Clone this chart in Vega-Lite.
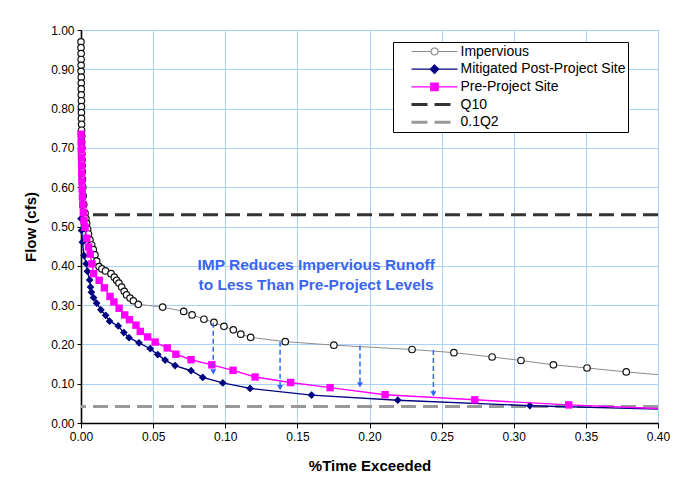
{
  "$schema": "https://vega.github.io/schema/vega-lite/v6.json",
  "width": 577,
  "height": 393,
  "autosize": "none",
  "padding": {"left": 81, "top": 30, "right": 21, "bottom": 55},
  "background": "#ffffff",
  "config": {
    "font": "Liberation Sans",
    "view": {"stroke": "#444444", "strokeWidth": 1},
    "axis": {
      "labelFont": "Liberation Sans",
      "labelFontSize": 12,
      "labelColor": "#000000",
      "titleFont": "Liberation Sans",
      "titleFontSize": 15,
      "titleFontWeight": "bold",
      "titleColor": "#000000",
      "domainColor": "#000000",
      "domainWidth": 1.6,
      "tickColor": "#000000",
      "gridColor": "#a9d2fb",
      "gridWidth": 1,
      "labelFlush": false,
      "labelOverlap": false
    }
  },
  "datasets": {
    "curves": [
      {"series": "Impervious", "t": 0.0000, "flow": 0.970},
      {"series": "Impervious", "t": 0.0000, "flow": 0.955},
      {"series": "Impervious", "t": 0.0001, "flow": 0.940},
      {"series": "Impervious", "t": 0.0001, "flow": 0.925},
      {"series": "Impervious", "t": 0.0001, "flow": 0.910},
      {"series": "Impervious", "t": 0.0001, "flow": 0.895},
      {"series": "Impervious", "t": 0.0002, "flow": 0.880},
      {"series": "Impervious", "t": 0.0002, "flow": 0.865},
      {"series": "Impervious", "t": 0.0002, "flow": 0.850},
      {"series": "Impervious", "t": 0.0002, "flow": 0.835},
      {"series": "Impervious", "t": 0.0003, "flow": 0.820},
      {"series": "Impervious", "t": 0.0003, "flow": 0.805},
      {"series": "Impervious", "t": 0.0003, "flow": 0.790},
      {"series": "Impervious", "t": 0.0003, "flow": 0.775},
      {"series": "Impervious", "t": 0.0004, "flow": 0.760},
      {"series": "Impervious", "t": 0.0004, "flow": 0.745},
      {"series": "Impervious", "t": 0.0005, "flow": 0.730},
      {"series": "Impervious", "t": 0.0005, "flow": 0.715},
      {"series": "Impervious", "t": 0.0006, "flow": 0.700},
      {"series": "Impervious", "t": 0.0006, "flow": 0.685},
      {"series": "Impervious", "t": 0.0007, "flow": 0.670},
      {"series": "Impervious", "t": 0.0008, "flow": 0.655},
      {"series": "Impervious", "t": 0.0009, "flow": 0.640},
      {"series": "Impervious", "t": 0.0010, "flow": 0.620},
      {"series": "Impervious", "t": 0.0012, "flow": 0.600},
      {"series": "Impervious", "t": 0.0015, "flow": 0.578},
      {"series": "Impervious", "t": 0.0019, "flow": 0.556},
      {"series": "Impervious", "t": 0.0028, "flow": 0.534},
      {"series": "Impervious", "t": 0.0034, "flow": 0.520},
      {"series": "Impervious", "t": 0.0039, "flow": 0.508},
      {"series": "Impervious", "t": 0.0046, "flow": 0.493},
      {"series": "Impervious", "t": 0.0052, "flow": 0.481},
      {"series": "Impervious", "t": 0.0062, "flow": 0.466},
      {"series": "Impervious", "t": 0.0074, "flow": 0.453},
      {"series": "Impervious", "t": 0.0085, "flow": 0.441},
      {"series": "Impervious", "t": 0.0097, "flow": 0.428},
      {"series": "Impervious", "t": 0.0109, "flow": 0.412},
      {"series": "Impervious", "t": 0.0125, "flow": 0.398},
      {"series": "Impervious", "t": 0.0145, "flow": 0.392},
      {"series": "Impervious", "t": 0.0170, "flow": 0.387},
      {"series": "Impervious", "t": 0.0208, "flow": 0.380},
      {"series": "Impervious", "t": 0.0231, "flow": 0.371},
      {"series": "Impervious", "t": 0.0247, "flow": 0.363},
      {"series": "Impervious", "t": 0.0263, "flow": 0.356},
      {"series": "Impervious", "t": 0.0282, "flow": 0.346},
      {"series": "Impervious", "t": 0.0300, "flow": 0.335},
      {"series": "Impervious", "t": 0.0316, "flow": 0.326},
      {"series": "Impervious", "t": 0.0340, "flow": 0.318},
      {"series": "Impervious", "t": 0.0363, "flow": 0.311},
      {"series": "Impervious", "t": 0.0397, "flow": 0.302},
      {"series": "Impervious", "t": 0.0566, "flow": 0.295},
      {"series": "Impervious", "t": 0.0712, "flow": 0.284},
      {"series": "Impervious", "t": 0.0770, "flow": 0.275},
      {"series": "Impervious", "t": 0.0852, "flow": 0.264},
      {"series": "Impervious", "t": 0.0922, "flow": 0.256},
      {"series": "Impervious", "t": 0.0991, "flow": 0.246},
      {"series": "Impervious", "t": 0.1056, "flow": 0.237},
      {"series": "Impervious", "t": 0.1108, "flow": 0.226},
      {"series": "Impervious", "t": 0.1176, "flow": 0.218},
      {"series": "Impervious", "t": 0.1416, "flow": 0.207},
      {"series": "Impervious", "t": 0.1753, "flow": 0.198},
      {"series": "Impervious", "t": 0.2295, "flow": 0.187},
      {"series": "Impervious", "t": 0.2585, "flow": 0.179},
      {"series": "Impervious", "t": 0.2850, "flow": 0.168},
      {"series": "Impervious", "t": 0.3050, "flow": 0.159},
      {"series": "Impervious", "t": 0.3275, "flow": 0.148},
      {"series": "Impervious", "t": 0.3508, "flow": 0.140},
      {"series": "Impervious", "t": 0.3780, "flow": 0.130},
      {"series": "Impervious", "t": 0.4200, "flow": 0.1166},
      {"series": "Mitigated Post-Project Site", "t": 0.0000, "flow": 0.520},
      {"series": "Mitigated Post-Project Site", "t": 0.0004, "flow": 0.490},
      {"series": "Mitigated Post-Project Site", "t": 0.0010, "flow": 0.460},
      {"series": "Mitigated Post-Project Site", "t": 0.0021, "flow": 0.426},
      {"series": "Mitigated Post-Project Site", "t": 0.0036, "flow": 0.405},
      {"series": "Mitigated Post-Project Site", "t": 0.0045, "flow": 0.386},
      {"series": "Mitigated Post-Project Site", "t": 0.0060, "flow": 0.364},
      {"series": "Mitigated Post-Project Site", "t": 0.0066, "flow": 0.346},
      {"series": "Mitigated Post-Project Site", "t": 0.0072, "flow": 0.333},
      {"series": "Mitigated Post-Project Site", "t": 0.0087, "flow": 0.319},
      {"series": "Mitigated Post-Project Site", "t": 0.0108, "flow": 0.305},
      {"series": "Mitigated Post-Project Site", "t": 0.0138, "flow": 0.288},
      {"series": "Mitigated Post-Project Site", "t": 0.0171, "flow": 0.274},
      {"series": "Mitigated Post-Project Site", "t": 0.0198, "flow": 0.259},
      {"series": "Mitigated Post-Project Site", "t": 0.0258, "flow": 0.247},
      {"series": "Mitigated Post-Project Site", "t": 0.0297, "flow": 0.230},
      {"series": "Mitigated Post-Project Site", "t": 0.0333, "flow": 0.217},
      {"series": "Mitigated Post-Project Site", "t": 0.0402, "flow": 0.204},
      {"series": "Mitigated Post-Project Site", "t": 0.0480, "flow": 0.189},
      {"series": "Mitigated Post-Project Site", "t": 0.0532, "flow": 0.174},
      {"series": "Mitigated Post-Project Site", "t": 0.0583, "flow": 0.160},
      {"series": "Mitigated Post-Project Site", "t": 0.0652, "flow": 0.146},
      {"series": "Mitigated Post-Project Site", "t": 0.0763, "flow": 0.133},
      {"series": "Mitigated Post-Project Site", "t": 0.0844, "flow": 0.116},
      {"series": "Mitigated Post-Project Site", "t": 0.0983, "flow": 0.102},
      {"series": "Mitigated Post-Project Site", "t": 0.1172, "flow": 0.088},
      {"series": "Mitigated Post-Project Site", "t": 0.1598, "flow": 0.071},
      {"series": "Mitigated Post-Project Site", "t": 0.2196, "flow": 0.058},
      {"series": "Mitigated Post-Project Site", "t": 0.3112, "flow": 0.044},
      {"series": "Mitigated Post-Project Site", "t": 0.4200, "flow": 0.0335},
      {"series": "Pre-Project Site", "t": 0.0000, "flow": 0.735},
      {"series": "Pre-Project Site", "t": 0.0001, "flow": 0.715},
      {"series": "Pre-Project Site", "t": 0.0002, "flow": 0.695},
      {"series": "Pre-Project Site", "t": 0.0003, "flow": 0.675},
      {"series": "Pre-Project Site", "t": 0.0004, "flow": 0.655},
      {"series": "Pre-Project Site", "t": 0.0005, "flow": 0.635},
      {"series": "Pre-Project Site", "t": 0.0006, "flow": 0.615},
      {"series": "Pre-Project Site", "t": 0.0008, "flow": 0.595},
      {"series": "Pre-Project Site", "t": 0.0010, "flow": 0.575},
      {"series": "Pre-Project Site", "t": 0.0012, "flow": 0.555},
      {"series": "Pre-Project Site", "t": 0.0016, "flow": 0.535},
      {"series": "Pre-Project Site", "t": 0.0021, "flow": 0.515},
      {"series": "Pre-Project Site", "t": 0.0028, "flow": 0.498},
      {"series": "Pre-Project Site", "t": 0.0040, "flow": 0.470},
      {"series": "Pre-Project Site", "t": 0.0052, "flow": 0.448},
      {"series": "Pre-Project Site", "t": 0.0064, "flow": 0.430},
      {"series": "Pre-Project Site", "t": 0.0076, "flow": 0.405},
      {"series": "Pre-Project Site", "t": 0.0087, "flow": 0.380},
      {"series": "Pre-Project Site", "t": 0.0126, "flow": 0.363},
      {"series": "Pre-Project Site", "t": 0.0162, "flow": 0.344},
      {"series": "Pre-Project Site", "t": 0.0201, "flow": 0.322},
      {"series": "Pre-Project Site", "t": 0.0228, "flow": 0.308},
      {"series": "Pre-Project Site", "t": 0.0264, "flow": 0.292},
      {"series": "Pre-Project Site", "t": 0.0303, "flow": 0.275},
      {"series": "Pre-Project Site", "t": 0.0336, "flow": 0.263},
      {"series": "Pre-Project Site", "t": 0.0381, "flow": 0.249},
      {"series": "Pre-Project Site", "t": 0.0411, "flow": 0.233},
      {"series": "Pre-Project Site", "t": 0.0462, "flow": 0.219},
      {"series": "Pre-Project Site", "t": 0.0514, "flow": 0.206},
      {"series": "Pre-Project Site", "t": 0.0598, "flow": 0.191},
      {"series": "Pre-Project Site", "t": 0.0658, "flow": 0.175},
      {"series": "Pre-Project Site", "t": 0.0763, "flow": 0.161},
      {"series": "Pre-Project Site", "t": 0.0907, "flow": 0.148},
      {"series": "Pre-Project Site", "t": 0.1054, "flow": 0.134},
      {"series": "Pre-Project Site", "t": 0.1207, "flow": 0.117},
      {"series": "Pre-Project Site", "t": 0.1453, "flow": 0.103},
      {"series": "Pre-Project Site", "t": 0.1727, "flow": 0.090},
      {"series": "Pre-Project Site", "t": 0.2108, "flow": 0.072},
      {"series": "Pre-Project Site", "t": 0.2730, "flow": 0.059},
      {"series": "Pre-Project Site", "t": 0.3381, "flow": 0.046},
      {"series": "Pre-Project Site", "t": 0.4200, "flow": 0.034}
    ],
    "refs": [
      {"series": "Q10", "flow": 0.53},
      {"series": "0.1Q2", "flow": 0.042}
    ],
    "arrows": [
      {"t": 0.0917, "top": 0.255, "tip": 0.130},
      {"t": 0.1380, "top": 0.207, "tip": 0.090},
      {"t": 0.1934, "top": 0.197, "tip": 0.097},
      {"t": 0.2443, "top": 0.186, "tip": 0.074}
    ],
    "notes": [
      {"t": 0.163, "flow": 0.4025, "label": "IMP Reduces Impervious Runoff"},
      {"t": 0.163, "flow": 0.3516, "label": "to Less Than Pre-Project Levels"}
    ]
  },
  "layer": [
    {
      "data": {"name": "refs"},
      "mark": {"type": "rule", "strokeWidth": 3, "strokeDash": [15, 7]},
      "encoding": {
        "y": {"field": "flow", "type": "quantitative", "scale": {"domain": [0, 1], "nice": false},
          "axis": {"values": [0, 0.1, 0.2, 0.3, 0.4, 0.5, 0.6, 0.7, 0.8, 0.9, 1.0], "format": ".2f", "tickCount": 11, "labelOverlap": false, "labelBound": false, "tickSize": 4, "labelPadding": 3, "titlePadding": 12},
          "title": "Flow (cfs)"},
        "stroke": {
          "field": "series", "type": "nominal",
          "scale": {
            "domain": ["Impervious", "Mitigated Post-Project Site", "Pre-Project Site", "Q10", "0.1Q2"],
            "range": ["#8c8c8c", "#000080", "#ff00ff", "#333333", "#999999"]
          },
          "legend": {
            "orient": "none",
            "legendX": 312,
            "legendY": 12,
            "title": null,
            "padding": 2.5,
            "strokeColor": "#000000",
            "fillColor": "#ffffff",
            "symbolSize": 100,
            "symbolOffset": 32,
            "labelOffset": 19,
            "rowPadding": 3.7,
            "labelFont": "Liberation Sans",
            "labelFontSize": 14,
            "labelColor": "#000000",
            "labelLimit": 300,
            "encode": {
              "symbols": {
                "update": {
                  "shape": {"signal": "datum.value === 'Impervious' ? 'M-4.6,0H-0.7M0.7,0H4.6M0.7,0A0.7,0.7 0 1,1 -0.7,0A0.7,0.7 0 1,1 0.7,0Z' : datum.value === 'Mitigated Post-Project Site' ? 'M-4.6,0H4.6M0,-0.85L0.85,0L0,0.85L-0.85,0Z' : datum.value === 'Pre-Project Site' ? 'M-4.6,0H4.6M-0.75,-0.75H0.75V0.75H-0.75Z' : 'M-4.6,0H-1.4M0,0H3.2'"},
                  "fill": {"signal": "datum.value === 'Impervious' ? '#ffffff' : datum.value === 'Mitigated Post-Project Site' ? '#000080' : datum.value === 'Pre-Project Site' ? '#ff00ff' : 'transparent'"},
                  "stroke": {"signal": "datum.value === 'Impervious' ? '#555555' : datum.value === 'Mitigated Post-Project Site' ? '#000080' : datum.value === 'Pre-Project Site' ? '#ff00ff' : datum.value === 'Q10' ? '#333333' : '#999999'"},
                  "strokeWidth": {"signal": "datum.value === 'Q10' || datum.value === '0.1Q2' ? 3 : 1.2"},
                  "strokeDash": {"value": [1, 0]},
                  "opacity": {"value": 1}
                }
              }
            }
          }
        }
      }
    },
    {
      "data": {"name": "curves"},
      "transform": [{"filter": "datum.series === 'Impervious'"}],
      "mark": {"type": "line", "strokeWidth": 1, "clip": true},
      "encoding": {
        "x": {"field": "t", "type": "quantitative", "scale": {"domain": [0, 0.4], "nice": false},
          "axis": {"values": [0, 0.05, 0.1, 0.15, 0.2, 0.25, 0.3, 0.35, 0.4], "format": ".2f", "tickSize": 5, "labelPadding": 3, "titlePadding": 16},
          "title": "%Time Exceeded"},
        "y": {"field": "flow", "type": "quantitative", "scale": {"domain": [0, 1], "nice": false}},
        "stroke": {"field": "series", "type": "nominal"},
        "order": {"field": "t", "type": "quantitative"}
      }
    },
    {
      "data": {"name": "curves"},
      "transform": [{"filter": "datum.series === 'Impervious' && datum.t <= 0.4"}],
      "mark": {"type": "point", "shape": "circle", "size": 42, "filled": true, "fill": "#ffffff", "stroke": "#111111", "strokeWidth": 1.2, "opacity": 1},
      "encoding": {
        "x": {"field": "t", "type": "quantitative", "scale": {"domain": [0, 0.4], "nice": false}},
        "y": {"field": "flow", "type": "quantitative", "scale": {"domain": [0, 1], "nice": false}}
      }
    },
    {
      "data": {"name": "curves"},
      "transform": [{"filter": "datum.series === 'Mitigated Post-Project Site'"}],
      "mark": {"type": "line", "strokeWidth": 1.4, "clip": true},
      "encoding": {
        "x": {"field": "t", "type": "quantitative", "scale": {"domain": [0, 0.4], "nice": false}},
        "y": {"field": "flow", "type": "quantitative", "scale": {"domain": [0, 1], "nice": false}},
        "stroke": {"field": "series", "type": "nominal"},
        "order": {"field": "t", "type": "quantitative"}
      }
    },
    {
      "data": {"name": "curves"},
      "transform": [{"filter": "datum.series === 'Mitigated Post-Project Site' && datum.t <= 0.4"}],
      "mark": {"type": "point", "shape": "diamond", "size": 60, "filled": true, "fill": "#000080", "strokeWidth": 0, "opacity": 1},
      "encoding": {
        "x": {"field": "t", "type": "quantitative", "scale": {"domain": [0, 0.4], "nice": false}},
        "y": {"field": "flow", "type": "quantitative", "scale": {"domain": [0, 1], "nice": false}}
      }
    },
    {
      "data": {"name": "curves"},
      "transform": [{"filter": "datum.series === 'Pre-Project Site'"}],
      "mark": {"type": "line", "strokeWidth": 1.4, "clip": true},
      "encoding": {
        "x": {"field": "t", "type": "quantitative", "scale": {"domain": [0, 0.4], "nice": false}},
        "y": {"field": "flow", "type": "quantitative", "scale": {"domain": [0, 1], "nice": false}},
        "stroke": {"field": "series", "type": "nominal"},
        "order": {"field": "t", "type": "quantitative"}
      }
    },
    {
      "data": {"name": "curves"},
      "transform": [{"filter": "datum.series === 'Pre-Project Site' && datum.t <= 0.4"}],
      "mark": {"type": "point", "shape": "square", "size": 55, "filled": true, "fill": "#ff00ff", "strokeWidth": 0, "opacity": 1},
      "encoding": {
        "x": {"field": "t", "type": "quantitative", "scale": {"domain": [0, 0.4], "nice": false}},
        "y": {"field": "flow", "type": "quantitative", "scale": {"domain": [0, 1], "nice": false}}
      }
    },
    {
      "data": {"name": "arrows"},
      "mark": {"type": "rule", "stroke": "#3366ff", "strokeWidth": 1.5, "strokeDash": [5, 3]},
      "encoding": {
        "x": {"field": "t", "type": "quantitative", "scale": {"domain": [0, 0.4], "nice": false}},
        "y": {"field": "top", "type": "quantitative", "scale": {"domain": [0, 1], "nice": false}},
        "y2": {"field": "tip"}
      }
    },
    {
      "data": {"name": "arrows"},
      "mark": {"type": "point", "shape": "triangle-down", "size": 36, "filled": true, "fill": "#3366ff", "strokeWidth": 0, "opacity": 1},
      "encoding": {
        "x": {"field": "t", "type": "quantitative", "scale": {"domain": [0, 0.4], "nice": false}},
        "y": {"field": "tip", "type": "quantitative", "scale": {"domain": [0, 1], "nice": false}}
      }
    },
    {
      "data": {"name": "notes"},
      "mark": {"type": "text", "font": "Liberation Sans", "fontSize": 15.5, "fontWeight": "bold", "fill": "#3a66f2", "align": "center", "baseline": "middle"},
      "encoding": {
        "x": {"field": "t", "type": "quantitative", "scale": {"domain": [0, 0.4], "nice": false}},
        "y": {"field": "flow", "type": "quantitative", "scale": {"domain": [0, 1], "nice": false}},
        "text": {"field": "label", "type": "nominal"}
      }
    }
  ]
}
